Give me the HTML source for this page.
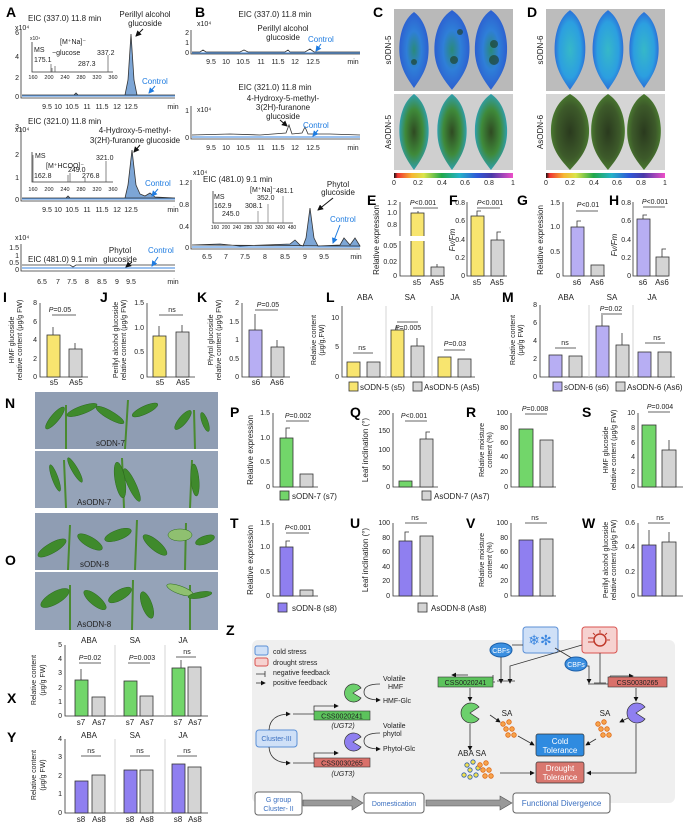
<!DOCTYPE html>
<html><head><meta charset="utf-8"><style>
html,body{margin:0;padding:0;background:#fff}
svg{display:block}
text{font-family:"Liberation Sans",Arial,sans-serif;fill:#222}
.s{font-size:7px}.m{font-size:8px}.L{font-size:14px;font-weight:bold;fill:#000}
.b{fill:#1e7be0}.w{fill:#fff}
.ax{stroke:#333;stroke-width:.8;fill:none}
.y{fill:#f8e56f;stroke:#333;stroke-width:.8}.g{fill:#d4d4d4;stroke:#333;stroke-width:.8}
.p{fill:#b7aef3;stroke:#333;stroke-width:.8}.dp{fill:#8f7ff0;stroke:#333;stroke-width:.8}
.gr{fill:#72d66a;stroke:#333;stroke-width:.8}
.bl{stroke:#3a86e0;stroke-width:.9;fill:none}.k{stroke:#333;stroke-width:.8;fill:none}
</style></head><body>
<svg width="692" height="824" viewBox="0 0 692 824" xmlns="http://www.w3.org/2000/svg">
<defs>
<linearGradient id="cb" x1="0" x2="1"><stop offset="0" stop-color="#111"/><stop offset=".03" stop-color="#e33"/><stop offset=".15" stop-color="#f7b733"/><stop offset=".25" stop-color="#dbe44b"/><stop offset=".4" stop-color="#22a84a"/><stop offset=".55" stop-color="#24b3c8"/><stop offset=".7" stop-color="#2f58d8"/><stop offset=".82" stop-color="#4a3aa8"/><stop offset="1" stop-color="#ee4fc8"/></linearGradient>
<radialGradient id="lb"><stop offset="0" stop-color="#2a8a7a"/><stop offset=".5" stop-color="#2f7fd8"/><stop offset="1" stop-color="#2c5fd0"/></radialGradient>
<radialGradient id="lb2"><stop offset="0" stop-color="#36b8c8"/><stop offset=".7" stop-color="#2c9fe0"/><stop offset="1" stop-color="#2a6fd8"/></radialGradient>
<radialGradient id="lg"><stop offset="0" stop-color="#2f4a22"/><stop offset=".6" stop-color="#3f8a3a"/><stop offset="1" stop-color="#2f9fae"/></radialGradient>
<radialGradient id="lg2"><stop offset="0" stop-color="#2a3a1e"/><stop offset=".7" stop-color="#3d5a2a"/><stop offset="1" stop-color="#4a7a30"/></radialGradient>
<marker id="ar" markerWidth="6" markerHeight="6" refX="5" refY="3" orient="auto"><path d="M0,0L6,3L0,6z" fill="#111"/></marker>
<marker id="ab" markerWidth="6" markerHeight="6" refX="5" refY="3" orient="auto"><path d="M0,0L6,3L0,6z" fill="#1e7be0"/></marker>
<g id="leaf"><path d="M0,-38 C14,-28 16,-5 14,8 C12,22 4,32 0,38 C-4,32 -12,22 -14,8 C-16,-5 -14,-28 0,-38z"/></g>
<g id="dots" fill="#f6a34a" stroke="#e06a1a" stroke-width=".8"><circle cx="0" cy="0" r="2.3"/><circle cx="6" cy="-2" r="2.3"/><circle cx="3" cy="5" r="2.3"/><circle cx="9" cy="5" r="2.3"/><circle cx="5" cy="11" r="2.3"/><circle cx="11" cy="11" r="2.3"/></g>
</defs>

<!-- ========== A ========== -->
<text x="6" y="17" class="L">A</text>
<text x="28" y="21" class="m">EIC (337.0) 11.8 min</text>
<text x="15" y="30" class="s">x10⁴</text>
<g class="s" text-anchor="end"><text x="19" y="35">6</text><text x="19" y="59">4</text><text x="19" y="80">2</text><text x="19" y="99">0</text></g>
<path class="ax" d="M21,30V98H175"/>
<g class="s" text-anchor="middle"><text x="47" y="109">9.5</text><text x="58" y="109">10</text><text x="72" y="109">10.5</text><text x="87" y="109">11</text><text x="102" y="109">11.5</text><text x="117" y="109">12</text><text x="131" y="109">12.5</text><text x="173" y="109">min</text></g>
<path d="M22,95 L74,95 L76,93 L78,95 L125,95 L128,80 L131,34 L134,80 L137,95 L175,95Z" fill="#7da6d6" stroke="#333" stroke-width=".8"/>
<path class="bl" d="M22,96H175"/>
<text x="145" y="17" class="m" text-anchor="middle">Perillyl alcohol</text><text x="145" y="26" class="m" text-anchor="middle">glucoside</text>
<path d="M143,29L136,36" stroke="#111" stroke-width="1" marker-end="url(#ar)"/>
<text x="142" y="84" class="m b">Control</text><path d="M155,86L149,93" stroke="#1e7be0" marker-end="url(#ab)"/>
<path class="ax" d="M32,42V72H113"/>
<text x="30" y="40" class="s" style="font-size:5px">x10⁴</text><text x="34" y="52" class="s">MS</text><text x="34" y="62" class="s">175.1</text>
<text x="60" y="44" class="s">[M⁺Na]⁻</text><text x="52" y="55" class="s">−glucose</text><text x="97" y="55" class="s">337.2</text><text x="78" y="66" class="s">287.3</text>
<path d="M51,72V64M52,72V68M55,72V66M108,72V55" stroke="#555" stroke-width=".7"/>
<g class="s" text-anchor="middle" style="font-size:5.5px"><text x="33" y="79">160</text><text x="49" y="79">200</text><text x="65" y="79">240</text><text x="81" y="79">280</text><text x="97" y="79">320</text><text x="113" y="79">360</text></g>

<text x="28" y="124" class="m">EIC (321.0) 11.8 min</text>
<text x="15" y="132" class="s">x10⁴</text>
<g class="s" text-anchor="end"><text x="19" y="129">3</text><text x="19" y="157">2</text><text x="19" y="180">1</text><text x="19" y="202">0</text></g>
<path class="ax" d="M21,128V201H175"/>
<g class="s" text-anchor="middle"><text x="47" y="212">9.5</text><text x="58" y="212">10</text><text x="72" y="212">10.5</text><text x="87" y="212">11</text><text x="102" y="212">11.5</text><text x="117" y="212">12</text><text x="131" y="212">12.5</text><text x="173" y="212">min</text></g>
<path d="M22,198 L66,198 L68,196 L70,198 L125,198 L128,185 L132,150 L136,185 L140,194 L145,196 L150,193 L155,197 L175,198Z" fill="#7da6d6" stroke="#333" stroke-width=".8"/>
<path class="bl" d="M22,199H175"/>
<text x="135" y="133" class="m" text-anchor="middle">4-Hydroxy-5-methyl-</text><text x="135" y="143" class="m" text-anchor="middle">3(2H)-furanone glucoside</text>
<path d="M140,145L134,152" stroke="#111" marker-end="url(#ar)"/>
<text x="145" y="186" class="m b">Control</text><path d="M158,189L152,196" stroke="#1e7be0" marker-end="url(#ab)"/>
<path class="ax" d="M32,152V182H113"/>
<text x="35" y="158" class="s">MS</text><text x="46" y="168" class="s">[M⁺HCOO]⁻</text><text x="34" y="178" class="s">162.8</text><text x="68" y="172" class="s">249.0</text><text x="82" y="178" class="s">276.8</text><text x="96" y="160" class="s">321.0</text>
<path d="M33,182V155M68,182V175M70,182V173M85,182V178M106,182V161" stroke="#555" stroke-width=".7"/>
<g class="s" text-anchor="middle" style="font-size:5.5px"><text x="33" y="191">160</text><text x="49" y="191">200</text><text x="65" y="191">240</text><text x="81" y="191">280</text><text x="97" y="191">320</text><text x="113" y="191">360</text></g>

<text x="15" y="240" class="s">x10⁴</text>
<g class="s" text-anchor="end"><text x="19" y="250">1.5</text><text x="19" y="258">1</text><text x="19" y="265">0.5</text><text x="19" y="272">0</text></g>
<path class="ax" d="M21,244V271H175"/>
<text x="28" y="262" class="m">EIC (481.0) 9.1 min</text>
<path class="k" d="M22,265H70L73,267L76,265H175"/><path class="bl" d="M22,268H175"/>
<text x="120" y="253" class="m" text-anchor="middle">Phytol</text><text x="120" y="262" class="m" text-anchor="middle">glucoside</text>
<path d="M132,262L126,267" stroke="#111" marker-end="url(#ar)"/>
<text x="148" y="253" class="m b">Control</text><path d="M158,257L152,266" stroke="#1e7be0" marker-end="url(#ab)"/>
<g class="s" text-anchor="middle"><text x="42" y="284">6.5</text><text x="58" y="284">7</text><text x="72" y="284">7.5</text><text x="87" y="284">8</text><text x="102" y="284">8.5</text><text x="117" y="284">9</text><text x="131" y="284">9.5</text><text x="173" y="284">min</text></g>

<!-- ========== B ========== -->
<text x="195" y="17" class="L">B</text>
<text x="275" y="17" class="m" text-anchor="middle">EIC (337.0) 11.8 min</text>
<text x="197" y="26" class="s">x10⁴</text>
<g class="s" text-anchor="end"><text x="189" y="35">2</text><text x="189" y="45">1</text><text x="189" y="55">0</text></g>
<path class="ax" d="M191,30V54H360"/>
<path class="k" d="M192,52L200,52L203,50L206,52L240,52L244,50L248,52L285,52L288,50L290,52L305,52L310,49L314,52L360,52"/>
<path class="bl" d="M192,53H360"/>
<text x="283" y="31" class="m" text-anchor="middle">Perillyl alcohol</text><text x="283" y="40" class="m" text-anchor="middle">glucoside</text>
<text x="308" y="42" class="m b">Control</text><path d="M321,44L316,51" stroke="#1e7be0" marker-end="url(#ab)"/>
<g class="s" text-anchor="middle"><text x="211" y="64">9.5</text><text x="226" y="64">10</text><text x="243" y="64">10.5</text><text x="261" y="64">11</text><text x="278" y="64">11.5</text><text x="295" y="64">12</text><text x="313" y="64">12.5</text><text x="353" y="64">min</text></g>

<text x="275" y="90" class="m" text-anchor="middle">EIC (321.0) 11.8 min</text>
<text x="283" y="101" class="m" text-anchor="middle">4-Hydroxy-5-methyl-</text><text x="283" y="110" class="m" text-anchor="middle">3(2H)-furanone</text><text x="283" y="119" class="m" text-anchor="middle">glucoside</text>
<text x="197" y="112" class="s">x10⁴</text>
<g class="s" text-anchor="end"><text x="189" y="113">1</text><text x="189" y="140">0</text></g>
<path class="ax" d="M191,106V139H360"/>
<path class="k" d="M192,135L230,134L260,135L286,133L289,125L292,134L302,133L305,127L308,134L330,134L360,135"/>
<path class="bl" d="M192,137H360"/>
<path d="M280,120L287,126" stroke="#111" marker-end="url(#ar)"/>
<text x="303" y="128" class="m b">Control</text><path d="M318,130L313,136" stroke="#1e7be0" marker-end="url(#ab)"/>
<g class="s" text-anchor="middle"><text x="211" y="150">9.5</text><text x="226" y="150">10</text><text x="243" y="150">10.5</text><text x="261" y="150">11</text><text x="278" y="150">11.5</text><text x="295" y="150">12</text><text x="313" y="150">12.5</text><text x="353" y="150">min</text></g>

<text x="193" y="175" class="s">x10⁴</text>
<g class="s" text-anchor="end"><text x="189" y="185">1.2</text><text x="189" y="207">0.8</text><text x="189" y="229">0.4</text><text x="189" y="250">0</text></g>
<path class="ax" d="M191,180V249H360"/>
<text x="203" y="182" class="m">EIC (481.0) 9.1 min</text>
<path d="M192,245 L220,244 L240,246 L290,244 L295,240 L300,245 L303,246 L306,238 L310,208 L314,238 L318,246 L340,245 L344,238 L350,245 L355,238 L360,246Z" fill="#7da6d6" stroke="#333" stroke-width=".8"/>
<path class="bl" d="M192,247H360"/>
<text x="338" y="187" class="m" text-anchor="middle">Phytol</text><text x="338" y="195" class="m" text-anchor="middle">glucoside</text>
<path d="M333,198L318,210" stroke="#111" marker-end="url(#ar)"/>
<text x="330" y="222" class="m b">Control</text><path d="M340,225L333,243" stroke="#1e7be0" marker-end="url(#ab)"/>
<path class="ax" d="M213,191V223H293"/>
<text x="214" y="199" class="s">MS</text><text x="214" y="208" class="s">162.9</text><text x="222" y="216" class="s">245.0</text><text x="245" y="208" class="s">308.1</text><text x="257" y="200" class="s">352.0</text><text x="250" y="192" class="s">[M⁺Na]⁻</text><text x="276" y="193" class="s">481.1</text>
<path d="M283,223V196M258,223V211M268,223V204" stroke="#777" stroke-width=".7"/>
<g class="s" text-anchor="middle" style="font-size:5px"><text x="215" y="229">160</text><text x="226" y="229">200</text><text x="237" y="229">240</text><text x="248" y="229">280</text><text x="259" y="229">320</text><text x="270" y="229">360</text><text x="281" y="229">400</text><text x="292" y="229">480</text></g>
<g class="s" text-anchor="middle"><text x="207" y="259">6.5</text><text x="226" y="259">7</text><text x="245" y="259">7.5</text><text x="265" y="259">8</text><text x="285" y="259">8.5</text><text x="305" y="259">9</text><text x="324" y="259">9.5</text><text x="356" y="259">min</text></g>

<!-- ========== C / D ========== -->
<text x="373" y="17" class="L">C</text>
<rect x="394" y="9" width="119" height="82" fill="#b9b9b9"/>
<rect x="394" y="94" width="119" height="76" fill="#cfcfcf"/>
<g fill="url(#lb)"><use href="#leaf" x="414" y="50"/><use href="#leaf" x="452" y="50" transform="translate(452 50) scale(1.2 1.05) translate(-452 -50)"/><use href="#leaf" x="491" y="50" transform="translate(491 50) scale(1.1 1.05) translate(-491 -50)"/></g>
<g fill="#1d3a1a" opacity=".6"><circle cx="414" cy="62" r="3"/><circle cx="454" cy="60" r="4"/><circle cx="494" cy="60" r="5"/><circle cx="494" cy="44" r="4"/><circle cx="460" cy="32" r="3"/></g>
<g fill="url(#lg)"><use href="#leaf" x="414" y="132"/><use href="#leaf" x="452" y="132"/><use href="#leaf" x="491" y="132" transform="translate(491 132) scale(1.1 1) translate(-491 -132)"/></g>
<text transform="translate(391 50) rotate(-90)" class="m" text-anchor="middle">sODN-5</text>
<text transform="translate(391 132) rotate(-90)" class="m" text-anchor="middle">AsODN-5</text>
<rect x="394" y="173" width="119" height="5" fill="url(#cb)"/>
<g class="s" text-anchor="middle"><text x="394" y="185">0</text><text x="418" y="185">0.2</text><text x="442" y="185">0.4</text><text x="465" y="185">0.6</text><text x="489" y="185">0.8</text><text x="513" y="185">1</text></g>

<text x="527" y="17" class="L">D</text>
<rect x="546" y="9" width="119" height="82" fill="#bcbcbc"/>
<rect x="546" y="94" width="119" height="76" fill="#d5d5d5"/>
<g fill="url(#lb2)"><use href="#leaf" x="570" y="50" transform="translate(570 50) scale(1.05 1.05) translate(-570 -50)"/><use href="#leaf" x="608" y="50" transform="translate(608 50) scale(1.05 1.05) translate(-608 -50)"/><use href="#leaf" x="644" y="50"/></g>
<g fill="url(#lg2)"><use href="#leaf" x="570" y="132" transform="translate(570 132) scale(1.3 1) translate(-570 -132)"/><use href="#leaf" x="608" y="132" transform="translate(608 132) scale(1.15 1) translate(-608 -132)"/><use href="#leaf" x="644" y="132" transform="translate(644 132) scale(1.15 1) translate(-644 -132)"/></g>
<text transform="translate(543 50) rotate(-90)" class="m" text-anchor="middle">sODN-6</text>
<text transform="translate(543 132) rotate(-90)" class="m" text-anchor="middle">AsODN-6</text>
<rect x="546" y="173" width="119" height="5" fill="url(#cb)"/>
<g class="s" text-anchor="middle"><text x="546" y="185">0</text><text x="570" y="185">0.2</text><text x="594" y="185">0.4</text><text x="617" y="185">0.6</text><text x="641" y="185">0.8</text><text x="665" y="185">1</text></g>

<!-- ========== E-H ========== -->
<text x="367" y="205" class="L">E</text>
<text transform="translate(379 240) rotate(-90)" class="m" text-anchor="middle">Relative expression</text>
<path class="ax" d="M400,202V236M400,241V276H445"/>
<g class="s" text-anchor="end"><text x="397" y="205">1.2</text><text x="397" y="215">1.0</text><text x="397" y="227">0.8</text><text x="397" y="248">0.05</text><text x="397" y="264">0.02</text><text x="397" y="278">0</text></g>
<rect x="411" y="213" width="13" height="63" class="y"/><rect x="404" y="236" width="24" height="5" fill="#fff"/>
<rect x="431" y="267" width="13" height="9" class="g"/>
<path class="k" d="M418,213V211M437,264V267"/>
<text x="423" y="205" class="s" text-anchor="middle"><tspan font-style="italic">P</tspan>&lt;0.001</text><path class="k" d="M413,208H438"/>
<g class="m" text-anchor="middle"><text x="417" y="285">s5</text><text x="437" y="285">As5</text></g>

<text x="449" y="205" class="L">F</text>
<text transform="translate(455 240) rotate(-90)" class="m" text-anchor="middle" font-style="italic">Fv/Fm</text>
<path class="ax" d="M467,202V276H507"/>
<g class="s" text-anchor="end"><text x="465" y="205">0.8</text><text x="465" y="223">0.6</text><text x="465" y="242">0.4</text><text x="465" y="260">0.2</text><text x="465" y="278">0</text></g>
<rect x="471" y="216" width="13" height="60" class="y"/><rect x="491" y="240" width="13" height="36" class="g"/>
<path class="k" d="M477,216V211H481M497,240V232H501"/>
<text x="490" y="205" class="s" text-anchor="middle"><tspan font-style="italic">P</tspan>&lt;0.001</text><path class="k" d="M477,208H500"/>
<g class="m" text-anchor="middle"><text x="477" y="285">s5</text><text x="497" y="285">As5</text></g>

<text x="517" y="205" class="L">G</text>
<text transform="translate(543 240) rotate(-90)" class="m" text-anchor="middle">Relative expression</text>
<path class="ax" d="M563,202V276H605"/>
<g class="s" text-anchor="end"><text x="560" y="205">1.5</text><text x="560" y="229">1.0</text><text x="560" y="254">0.5</text><text x="560" y="278">0</text></g>
<rect x="571" y="227" width="13" height="49" class="p"/><rect x="591" y="265" width="13" height="11" class="g"/>
<path class="k" d="M577,227V221H581"/>
<text x="588" y="207" class="s" text-anchor="middle"><tspan font-style="italic">P</tspan>&lt;0.01</text><path class="k" d="M576,211H598"/>
<g class="m" text-anchor="middle"><text x="577" y="285">s6</text><text x="597" y="285">As6</text></g>

<text x="609" y="205" class="L">H</text>
<text transform="translate(617 245) rotate(-90)" class="m" text-anchor="middle" font-style="italic">Fv/Fm</text>
<path class="ax" d="M633,202V276H668"/>
<g class="s" text-anchor="end"><text x="631" y="205">0.8</text><text x="631" y="223">0.6</text><text x="631" y="242">0.4</text><text x="631" y="260">0.2</text><text x="631" y="278">0</text></g>
<rect x="637" y="219" width="13" height="57" class="p"/><rect x="656" y="257" width="13" height="19" class="g"/>
<path class="k" d="M643,219V215H647M662,257V249H666"/>
<text x="655" y="204" class="s" text-anchor="middle"><tspan font-style="italic">P</tspan>&lt;0.001</text><path class="k" d="M643,207H665"/>
<g class="m" text-anchor="middle"><text x="643" y="285">s6</text><text x="662" y="285">As6</text></g>

<!-- ========== I J K ========== -->
<text x="3" y="302" class="L">I</text>
<text transform="translate(14 340) rotate(-90)" class="s" text-anchor="middle">HMF glucoside</text>
<text transform="translate(22 340) rotate(-90)" class="s" text-anchor="middle">relative content (μg/g FW)</text>
<path class="ax" d="M40,303V377H88"/>
<g class="s" text-anchor="end"><text x="37" y="305">8</text><text x="37" y="324">6</text><text x="37" y="342">4</text><text x="37" y="361">2</text><text x="37" y="379">0</text></g>
<rect x="47" y="335" width="13" height="42" class="y"/><rect x="69" y="349" width="13" height="28" class="g"/>
<path class="k" d="M53,335V327M75,349V343"/>
<text x="60" y="312" class="s" text-anchor="middle"><tspan font-style="italic">P</tspan>=0.05</text><path class="k" d="M52,315H76"/>
<g class="m" text-anchor="middle"><text x="54" y="385">s5</text><text x="76" y="385">As5</text></g>

<text x="100" y="302" class="L">J</text>
<text transform="translate(118 340) rotate(-90)" class="s" text-anchor="middle">Perillyl alcohol glucoside</text>
<text transform="translate(126 340) rotate(-90)" class="s" text-anchor="middle">relative content (μg/g FW)</text>
<path class="ax" d="M147,303V377H195"/>
<g class="s" text-anchor="end"><text x="144" y="305">1.5</text><text x="144" y="330">1.0</text><text x="144" y="354">0.5</text><text x="144" y="379">0</text></g>
<rect x="153" y="336" width="13" height="41" class="y"/><rect x="176" y="332" width="13" height="45" class="g"/>
<path class="k" d="M159,336V326M182,332V325"/>
<text x="172" y="312" class="s" text-anchor="middle">ns</text><path class="k" d="M159,315H183"/>
<g class="m" text-anchor="middle"><text x="160" y="385">s5</text><text x="183" y="385">As5</text></g>

<text x="197" y="302" class="L">K</text>
<text transform="translate(213 340) rotate(-90)" class="s" text-anchor="middle">Phytol glucoside</text>
<text transform="translate(221 340) rotate(-90)" class="s" text-anchor="middle">relative content (μg/g FW)</text>
<path class="ax" d="M242,303V377H290"/>
<g class="s" text-anchor="end"><text x="239" y="305">2</text><text x="239" y="324">1.5</text><text x="239" y="342">1</text><text x="239" y="361">0.5</text><text x="239" y="379">0</text></g>
<rect x="249" y="330" width="13" height="47" class="p"/><rect x="271" y="347" width="13" height="30" class="g"/>
<path class="k" d="M255,330V314M277,347V340"/>
<text x="268" y="307" class="s" text-anchor="middle"><tspan font-style="italic">P</tspan>=0.05</text><path class="k" d="M255,310H278"/>
<g class="m" text-anchor="middle"><text x="256" y="385">s6</text><text x="277" y="385">As6</text></g>

<!-- ========== L ========== -->
<text x="326" y="302" class="L">L</text>
<text transform="translate(316 340) rotate(-90)" class="s" text-anchor="middle">Relative content</text>
<text transform="translate(324 340) rotate(-90)" class="s" text-anchor="middle">(μg/g,FW)</text>
<path class="ax" d="M342,306V377H475"/>
<path d="M386,306V377M432,306V377" stroke="#ccc" stroke-width=".8"/>
<g class="s" text-anchor="end"><text x="339" y="320">10</text><text x="339" y="349">5</text><text x="339" y="379">0</text></g>
<g class="m" text-anchor="middle"><text x="365" y="300">ABA</text><text x="410" y="300">SA</text><text x="455" y="300">JA</text></g>
<rect x="347" y="362" width="13" height="15" class="y"/><rect x="367" y="362" width="13" height="15" class="g"/>
<rect x="391" y="330" width="13" height="47" class="y"/><rect x="411" y="346" width="13" height="31" class="g"/>
<rect x="438" y="357" width="13" height="20" class="y"/><rect x="458" y="359" width="13" height="18" class="g"/>
<path class="k" d="M397,330V326M417,346V338"/>
<text x="362" y="350" class="s" text-anchor="middle">ns</text><path class="k" d="M353,353H373"/>
<text x="408" y="330" class="s" text-anchor="middle"><tspan font-style="italic">P</tspan>=0.005</text><path class="k" d="M397,322H418"/>
<text x="455" y="346" class="s" text-anchor="middle"><tspan font-style="italic">P</tspan>=0.03</text><path class="k" d="M444,350H465"/>
<rect x="349" y="382" width="9" height="9" class="y"/><text x="360" y="390" class="m">sODN-5 (s5)</text>
<rect x="413" y="382" width="9" height="9" class="g"/><text x="424" y="390" class="m">AsODN-5 (As5)</text>

<!-- ========== M ========== -->
<text x="502" y="302" class="L">M</text>
<text transform="translate(515 340) rotate(-90)" class="s" text-anchor="middle">Relative content</text>
<text transform="translate(523 340) rotate(-90)" class="s" text-anchor="middle">(μg/g FW)</text>
<path class="ax" d="M540,305V377H675"/>
<path d="M589,305V377M633,305V377" stroke="#ccc" stroke-width=".8"/>
<g class="s" text-anchor="end"><text x="537" y="307">8</text><text x="537" y="325">6</text><text x="537" y="343">4</text><text x="537" y="361">2</text><text x="537" y="379">0</text></g>
<g class="m" text-anchor="middle"><text x="566" y="300">ABA</text><text x="612" y="300">SA</text><text x="652" y="300">JA</text></g>
<rect x="549" y="355" width="13" height="22" class="p"/><rect x="569" y="356" width="13" height="21" class="g"/>
<rect x="596" y="326" width="13" height="51" class="p"/><rect x="616" y="345" width="13" height="32" class="g"/>
<rect x="638" y="352" width="13" height="25" class="p"/><rect x="658" y="352" width="13" height="25" class="g"/>
<path class="k" d="M602,326V315M622,345V333"/>
<text x="565" y="345" class="s" text-anchor="middle">ns</text><path class="k" d="M555,348H576"/>
<text x="611" y="311" class="s" text-anchor="middle"><tspan font-style="italic">P</tspan>=0.02</text><path class="k" d="M601,314H622"/>
<text x="657" y="340" class="s" text-anchor="middle">ns</text><path class="k" d="M645,343H665"/>
<rect x="553" y="382" width="9" height="9" class="p"/><text x="564" y="390" class="m">sODN-6 (s6)</text>
<rect x="616" y="382" width="9" height="9" class="g"/><text x="627" y="390" class="m">AsODN-6 (As6)</text>

<!-- ========== N O photos ========== -->
<text x="5" y="408" class="L">N</text>
<text x="5" y="565" class="L">O</text>
<g>
<rect x="35" y="392" width="183" height="57" fill="#8f9db3"/><rect x="35" y="451" width="183" height="57" fill="#95a3b8"/>
<rect x="35" y="513" width="183" height="57" fill="#8f9db3"/><rect x="35" y="572" width="183" height="58" fill="#95a3b8"/>
<g fill="#3f8a2c" stroke="#2d6a1e" stroke-width=".5">
<path d="M66,449L66,405M125,449L128,400M195,449L194,410M66,508L64,460M124,508L122,458M190,508L192,460M68,570L70,525M135,570L137,520M185,570L186,523M70,630L70,585M132,630L133,580M190,630L190,585" stroke="#4a8a30" stroke-width="2"/>
<ellipse cx="55" cy="418" rx="14" ry="4" transform="rotate(-50 55 418)"/><ellipse cx="82" cy="410" rx="16" ry="4" transform="rotate(-20 82 410)"/><ellipse cx="110" cy="415" rx="16" ry="4" transform="rotate(30 110 415)"/><ellipse cx="145" cy="410" rx="14" ry="4" transform="rotate(-25 145 410)"/><ellipse cx="183" cy="420" rx="12" ry="4" transform="rotate(-50 183 420)"/><ellipse cx="205" cy="422" rx="10" ry="3" transform="rotate(70 205 422)"/>
<ellipse cx="55" cy="478" rx="14" ry="3" transform="rotate(70 55 478)"/><ellipse cx="75" cy="470" rx="14" ry="3" transform="rotate(60 75 470)"/><ellipse cx="120" cy="480" rx="18" ry="5" transform="rotate(80 120 480)"/><ellipse cx="132" cy="485" rx="18" ry="4" transform="rotate(65 132 485)"/><ellipse cx="195" cy="480" rx="16" ry="4" transform="rotate(85 195 480)"/>
<ellipse cx="52" cy="548" rx="16" ry="5" transform="rotate(-30 52 548)"/><ellipse cx="90" cy="542" rx="14" ry="5" transform="rotate(30 90 542)"/><ellipse cx="118" cy="535" rx="14" ry="5" transform="rotate(-20 118 535)"/><ellipse cx="155" cy="545" rx="15" ry="5" transform="rotate(40 155 545)"/><ellipse cx="180" cy="535" rx="12" ry="6" fill="#8fc070"/><ellipse cx="205" cy="540" rx="10" ry="4" transform="rotate(-20 205 540)"/>
<ellipse cx="55" cy="598" rx="16" ry="6" transform="rotate(-30 55 598)"/><ellipse cx="95" cy="600" rx="14" ry="5" transform="rotate(40 95 600)"/><ellipse cx="120" cy="595" rx="13" ry="5" transform="rotate(-30 120 595)"/><ellipse cx="147" cy="605" rx="14" ry="5" transform="rotate(70 147 605)"/><ellipse cx="180" cy="590" rx="14" ry="4" fill="#8fc070" transform="rotate(20 180 590)"/><ellipse cx="200" cy="595" rx="12" ry="3" transform="rotate(-10 200 595)"/>
</g>
<text x="96" y="446" class="m">sODN-7</text><text x="77" y="505" class="m">AsODN-7</text>
<text x="80" y="567" class="m">sODN-8</text><text x="77" y="627" class="m">AsODN-8</text>
</g>

<!-- ========== P Q R S ========== -->
<text x="230" y="417" class="L">P</text>
<text transform="translate(253 450) rotate(-90)" class="m" text-anchor="middle">Relative expression</text>
<path class="ax" d="M273,413V487H318"/>
<g class="s" text-anchor="end"><text x="270" y="415">1.5</text><text x="270" y="440">1.0</text><text x="270" y="464">0.5</text><text x="270" y="489">0</text></g>
<rect x="280" y="438" width="13" height="49" class="gr"/><rect x="300" y="474" width="13" height="13" class="g"/>
<path class="k" d="M286,438V428H290"/>
<text x="298" y="418" class="s" text-anchor="middle"><tspan font-style="italic">P</tspan>=0.002</text><path class="k" d="M286,421H309"/>
<rect x="280" y="491" width="9" height="9" class="gr"/><text x="292" y="499" class="m">sODN-7 (s7)</text>

<text x="350" y="417" class="L">Q</text>
<text transform="translate(368 450) rotate(-90)" class="m" text-anchor="middle">Leaf inclination (°)</text>
<path class="ax" d="M393,413V487H438"/>
<g class="s" text-anchor="end"><text x="390" y="415">200</text><text x="390" y="433">150</text><text x="390" y="452">100</text><text x="390" y="470">50</text><text x="390" y="489">0</text></g>
<rect x="399" y="481" width="13" height="6" class="gr"/><rect x="420" y="439" width="13" height="48" class="g"/>
<path class="k" d="M426,439V432H430"/>
<text x="414" y="418" class="s" text-anchor="middle"><tspan font-style="italic">P</tspan>&lt;0.001</text><path class="k" d="M405,421H427"/>
<rect x="422" y="491" width="9" height="9" class="g"/><text x="434" y="499" class="m">AsODN-7 (As7)</text>

<text x="466" y="417" class="L">R</text>
<text transform="translate(484 450) rotate(-90)" class="s" text-anchor="middle">Relative moisture</text>
<text transform="translate(492 450) rotate(-90)" class="s" text-anchor="middle">content (%)</text>
<path class="ax" d="M511,413V487H556"/>
<g class="s" text-anchor="end"><text x="508" y="415">100</text><text x="508" y="430">80</text><text x="508" y="445">60</text><text x="508" y="459">40</text><text x="508" y="474">20</text><text x="508" y="489">0</text></g>
<rect x="519" y="429" width="14" height="58" class="gr"/><rect x="540" y="440" width="13" height="47" class="g"/>
<text x="535" y="411" class="s" text-anchor="middle"><tspan font-style="italic">P</tspan>=0.008</text><path class="k" d="M525,414H547"/>

<text x="582" y="417" class="L">S</text>
<text transform="translate(608 450) rotate(-90)" class="s" text-anchor="middle">HMF glucoside</text>
<text transform="translate(616 450) rotate(-90)" class="s" text-anchor="middle">relative content (μg/g FW)</text>
<path class="ax" d="M638,413V487H683"/>
<g class="s" text-anchor="end"><text x="635" y="415">10</text><text x="635" y="430">8</text><text x="635" y="445">6</text><text x="635" y="459">4</text><text x="635" y="474">2</text><text x="635" y="489">0</text></g>
<rect x="642" y="425" width="14" height="62" class="gr"/><rect x="662" y="450" width="14" height="37" class="g"/>
<path class="k" d="M669,450V440"/>
<text x="660" y="409" class="s" text-anchor="middle"><tspan font-style="italic">P</tspan>=0.004</text><path class="k" d="M648,412H670"/>

<!-- ========== T U V W ========== -->
<text x="230" y="528" class="L">T</text>
<text transform="translate(253 560) rotate(-90)" class="m" text-anchor="middle">Relative expression</text>
<path class="ax" d="M273,523V596H318"/>
<g class="s" text-anchor="end"><text x="270" y="525">1.5</text><text x="270" y="549">1.0</text><text x="270" y="574">0.5</text><text x="270" y="598">0</text></g>
<rect x="280" y="547" width="13" height="49" class="dp"/><rect x="300" y="590" width="13" height="6" class="g"/>
<path class="k" d="M286,547V541H290"/>
<text x="298" y="530" class="s" text-anchor="middle"><tspan font-style="italic">P</tspan>&lt;0.001</text><path class="k" d="M286,533H309"/>
<rect x="278" y="603" width="9" height="9" class="dp"/><text x="292" y="611" class="m">sODN-8 (s8)</text>

<text x="350" y="528" class="L">U</text>
<text transform="translate(368 560) rotate(-90)" class="m" text-anchor="middle">Leaf inclination (°)</text>
<path class="ax" d="M393,523V596H438"/>
<g class="s" text-anchor="end"><text x="390" y="525">100</text><text x="390" y="540">80</text><text x="390" y="554">60</text><text x="390" y="569">40</text><text x="390" y="583">20</text><text x="390" y="598">0</text></g>
<rect x="399" y="541" width="13" height="55" class="dp"/><rect x="420" y="536" width="13" height="60" class="g"/>
<path class="k" d="M405,541V532H409"/>
<text x="415" y="520" class="s" text-anchor="middle">ns</text><path class="k" d="M405,523H427"/>
<rect x="418" y="603" width="9" height="9" class="g"/><text x="431" y="611" class="m">AsODN-8 (As8)</text>

<text x="466" y="528" class="L">V</text>
<text transform="translate(484 560) rotate(-90)" class="s" text-anchor="middle">Relative moisture</text>
<text transform="translate(492 560) rotate(-90)" class="s" text-anchor="middle">content (%)</text>
<path class="ax" d="M511,523V596H556"/>
<g class="s" text-anchor="end"><text x="508" y="525">100</text><text x="508" y="540">80</text><text x="508" y="554">60</text><text x="508" y="569">40</text><text x="508" y="583">20</text><text x="508" y="598">0</text></g>
<rect x="519" y="540" width="14" height="56" class="dp"/><rect x="540" y="539" width="13" height="57" class="g"/>
<text x="535" y="520" class="s" text-anchor="middle">ns</text><path class="k" d="M525,523H547"/>

<text x="582" y="528" class="L">W</text>
<text transform="translate(608 560) rotate(-90)" class="s" text-anchor="middle">Perillyl alcohol glucoside</text>
<text transform="translate(616 560) rotate(-90)" class="s" text-anchor="middle">relative content (μg/g FW)</text>
<path class="ax" d="M638,523V596H683"/>
<g class="s" text-anchor="end"><text x="635" y="525">0.6</text><text x="635" y="549">0.4</text><text x="635" y="574">0.2</text><text x="635" y="598">0</text></g>
<rect x="642" y="545" width="14" height="51" class="dp"/><rect x="662" y="542" width="14" height="54" class="g"/>
<path class="k" d="M649,545V530M669,542V532"/>
<text x="660" y="520" class="s" text-anchor="middle">ns</text><path class="k" d="M648,523H670"/>

<!-- ========== X Y ========== -->
<text x="7" y="703" class="L">X</text>
<text transform="translate(36 680) rotate(-90)" class="s" text-anchor="middle">Relative content</text>
<text transform="translate(45 680) rotate(-90)" class="s" text-anchor="middle">(μg/g FW)</text>
<path class="ax" d="M65,645V716H208"/>
<path d="M115,645V716M165,645V716" stroke="#ccc" stroke-width=".8"/>
<g class="s" text-anchor="end"><text x="62" y="647">5</text><text x="62" y="661">4</text><text x="62" y="675">3</text><text x="62" y="690">2</text><text x="62" y="704">1</text><text x="62" y="718">0</text></g>
<g class="m" text-anchor="middle"><text x="89" y="643">ABA</text><text x="135" y="643">SA</text><text x="183" y="643">JA</text></g>
<rect x="75" y="680" width="13" height="36" class="gr"/><rect x="92" y="697" width="13" height="19" class="g"/>
<rect x="124" y="681" width="13" height="35" class="gr"/><rect x="140" y="696" width="13" height="20" class="g"/>
<rect x="172" y="668" width="13" height="48" class="gr"/><rect x="188" y="667" width="13" height="49" class="g"/>
<path class="k" d="M81,680V669M181,668V660"/>
<text x="90" y="660" class="s" text-anchor="middle"><tspan font-style="italic">P</tspan>=0.02</text><path class="k" d="M79,663H101"/>
<text x="142" y="660" class="s" text-anchor="middle"><tspan font-style="italic">P</tspan>=0.003</text><path class="k" d="M128,663H150"/>
<text x="187" y="654" class="s" text-anchor="middle">ns</text><path class="k" d="M176,657H196"/>
<g class="m" text-anchor="middle"><text x="81" y="725">s7</text><text x="99" y="725">As7</text><text x="130" y="725">s7</text><text x="147" y="725">As7</text><text x="178" y="725">s7</text><text x="195" y="725">As7</text></g>

<text x="7" y="742" class="L">Y</text>
<text transform="translate(36 775) rotate(-90)" class="s" text-anchor="middle">Relative content</text>
<text transform="translate(45 775) rotate(-90)" class="s" text-anchor="middle">(μg/g FW)</text>
<path class="ax" d="M65,739V813H208"/>
<path d="M115,739V813M165,739V813" stroke="#ccc" stroke-width=".8"/>
<g class="s" text-anchor="end"><text x="62" y="741">4</text><text x="62" y="759">3</text><text x="62" y="778">2</text><text x="62" y="796">1</text><text x="62" y="815">0</text></g>
<g class="m" text-anchor="middle"><text x="89" y="738">ABA</text><text x="135" y="738">SA</text><text x="183" y="738">JA</text></g>
<rect x="75" y="781" width="13" height="32" class="dp"/><rect x="92" y="775" width="13" height="38" class="g"/>
<rect x="124" y="770" width="13" height="43" class="dp"/><rect x="140" y="770" width="13" height="43" class="g"/>
<rect x="172" y="764" width="13" height="49" class="dp"/><rect x="188" y="767" width="13" height="46" class="g"/>
<text x="91" y="753" class="s" text-anchor="middle">ns</text><path class="k" d="M81,756H101"/>
<text x="140" y="753" class="s" text-anchor="middle">ns</text><path class="k" d="M130,756H150"/>
<text x="187" y="753" class="s" text-anchor="middle">ns</text><path class="k" d="M177,756H197"/>
<g class="m" text-anchor="middle"><text x="81" y="822">s8</text><text x="99" y="822">As8</text><text x="130" y="822">s8</text><text x="147" y="822">As8</text><text x="178" y="822">s8</text><text x="195" y="822">As8</text></g>

<!-- ========== Z ========== -->
<text x="226" y="635" class="L">Z</text>
<rect x="252" y="640" width="423" height="163" rx="6" fill="#efefef"/>
<rect x="523" y="627" width="35" height="26" rx="3" fill="#cfe0f7" stroke="#5b8fd6"/>
<text x="540" y="645" text-anchor="middle" style="font-size:14px;fill:#3a86e0">❄✻</text>
<rect x="582" y="627" width="35" height="26" rx="3" fill="#f6d2d0" stroke="#d9534f"/>
<circle cx="600" cy="640" r="6" fill="none" stroke="#c0392b" stroke-width="1.5"/><path d="M600,630V633M610,640H607M593,633L595,635M607,633L605,635M588,638H594M588,642H594" stroke="#c0392b"/>
<path class="k" d="M555,648L575,660" /><path class="k" d="M582,645L510,666V683" marker-end="url(#ar)"/>
<path class="k" d="M600,653V683M594,683H606" stroke-width="1.2"/>
<ellipse cx="501" cy="650" rx="11" ry="7" fill="#3b8fe0" stroke="#1c5fa8"/><text x="501" y="653" text-anchor="middle" class="s w">CBFs</text>
<path class="k" d="M512,645H523"/><path class="k" d="M501,657V683" marker-end="url(#ar)"/>
<ellipse cx="576" cy="664" rx="11" ry="7" fill="#3b8fe0" stroke="#1c5fa8"/><text x="576" y="667" text-anchor="middle" class="s w">CBFs</text>
<path class="k" d="M587,666H589V683" marker-end="url(#ar)"/>
<path class="k" d="M495,682H475M497,681H515" /><path class="k" d="M468,675H452" marker-end="url(#ar)"/><path class="k" d="M493,675V680"/>
<path class="k" d="M588,684H620"/><path class="k" d="M610,676V683M610,676H633" marker-end="url(#ar)"/>
<rect x="438" y="677" width="55" height="10" fill="#5cc35c" stroke="#333" stroke-width=".6"/><text x="465.5" y="685" text-anchor="middle" class="s">CSS0020241</text>
<rect x="608" y="677" width="59" height="10" fill="#d9706a" stroke="#333" stroke-width=".6"/><text x="637.5" y="685" text-anchor="middle" class="s">CSS0030265</text>
<rect x="255" y="646" width="13" height="9" rx="2" fill="#cfe0f7" stroke="#5b8fd6"/><text x="273" y="654" class="s">cold stress</text>
<rect x="255" y="658" width="13" height="8" rx="2" fill="#f6d2d0" stroke="#d9534f"/><text x="273" y="665" class="s">drought stress</text>
<path class="k" d="M256,674H265M265,671V677"/><text x="273" y="675" class="s">negative feedback</text>
<path class="k" d="M256,683H265" marker-end="url(#ar)"/><text x="273" y="685" class="s">positive feedback</text>
<rect x="256" y="730" width="41" height="17" rx="3" fill="#cfe0f7" stroke="#5b8fd6"/><text x="276.5" y="741" text-anchor="middle" class="s" style="fill:#3a6fc0">Cluster-III</text>
<path class="k" d="M269,730Q270,714 290,714" marker-end="url(#ar)"/><path class="k" d="M269,747Q270,763 290,763" marker-end="url(#ar)"/>
<path class="k" d="M293,714H314M314,763H293"/>
<path class="k" d="M314,711V706H338" marker-end="url(#ar)"/><path class="k" d="M314,758V753H338" marker-end="url(#ar)"/>
<rect x="314" y="711" width="56" height="9" fill="#5cc35c" stroke="#333" stroke-width=".6"/><text x="342" y="718.5" text-anchor="middle" class="s">CSS0020241</text>
<text x="343" y="728" text-anchor="middle" class="s" font-style="italic">(UGT2)</text>
<rect x="314" y="758" width="56" height="9" fill="#d9706a" stroke="#333" stroke-width=".6"/><text x="342" y="765.5" text-anchor="middle" class="s">CSS0030265</text>
<text x="343" y="776" text-anchor="middle" class="s" font-style="italic">(UGT3)</text>
<path d="M353,693L361,688A9,9 0 1 0 361,698Z" fill="#6cd06c" stroke="#333" stroke-width=".7"/>
<path d="M353,742L361,737A9,9 0 1 0 361,747Z" fill="#8f7ff0" stroke="#333" stroke-width=".7"/>
<path class="k" d="M380,684Q364,684 364,692Q364,700 380,700" marker-end="url(#ar)" stroke-width="1.1"/>
<path class="k" d="M380,733Q364,733 364,741Q364,749 380,749" marker-end="url(#ar)" stroke-width="1.1"/>
<text x="383" y="681" class="s">Volatile</text><text x="388" y="689" class="s">HMF</text><text x="383" y="703" class="s">HMF-Glc</text>
<text x="383" y="728" class="s">Volatile</text><text x="383" y="736" class="s">phytol</text><text x="383" y="751" class="s">Phytol-Glc</text>
<path class="k" d="M470,688V701" marker-end="url(#ar)"/>
<path d="M470,713L479,707A10,10 0 1 0 479,719Z" fill="#6cd06c" stroke="#333" stroke-width=".7"/>
<path class="k" d="M470,724V750" marker-end="url(#ar)"/>
<path class="k" d="M636,688V701" marker-end="url(#ar)"/>
<path d="M636,713L645,707A10,10 0 1 0 645,719Z" fill="#8f7ff0" stroke="#333" stroke-width=".7"/>
<text x="507" y="716" class="m" text-anchor="middle">SA</text><text x="605" y="716" class="m" text-anchor="middle">SA</text>
<path class="k" d="M490,715L500,722" marker-end="url(#ar)"/>
<use href="#dots" x="503" y="724"/><use href="#dots" x="598" y="724"/>
<path class="k" d="M518,736L534,745" marker-end="url(#ar)"/>
<path class="k" d="M596,739L586,745" marker-end="url(#ar)"/>
<path class="k" d="M628,718L620,722" marker-end="url(#ar)"/>
<rect x="536" y="734" width="48" height="22" rx="2" fill="#2f8be0" stroke="#333" stroke-width=".7"/><text x="560" y="744" text-anchor="middle" class="m w">Cold</text><text x="560" y="753" text-anchor="middle" class="m w">Tolerance</text>
<rect x="536" y="762" width="48" height="21" rx="2" fill="#d9776f" stroke="#333" stroke-width=".7"/><text x="560" y="771" text-anchor="middle" class="m w">Drought</text><text x="560" y="780" text-anchor="middle" class="m w">Tolerance</text>
<text x="472" y="756" class="m" text-anchor="middle">ABA SA</text>
<g fill="#f2e04a" stroke="#3060b0" stroke-width=".8"><circle cx="467" cy="765" r="2.2"/><circle cx="473" cy="762" r="2.2"/><circle cx="470" cy="770" r="2.2"/><circle cx="464" cy="775" r="2.2"/><circle cx="470" cy="777" r="2.2"/><circle cx="476" cy="775" r="2.2"/><circle cx="478" cy="768" r="2.2"/></g>
<use href="#dots" x="480" y="765"/>
<path class="k" d="M500,773H534" marker-end="url(#ar)"/>
<path class="k" d="M636,724V773H587" marker-end="url(#ar)"/>
<rect x="255" y="792" width="47" height="23" rx="3" fill="#fff" stroke="#666"/><text x="278.5" y="802" text-anchor="middle" class="s" style="fill:#3a6fc0">G group</text><text x="278.5" y="811" text-anchor="middle" class="s" style="fill:#3a6fc0">Cluster- II</text>
<path d="M303,800H352V796L363,803L352,810V806H303Z" fill="#999" stroke="#555" stroke-width=".6"/>
<rect x="364" y="793" width="60" height="20" rx="3" fill="#fff" stroke="#666"/><text x="394" y="806" text-anchor="middle" class="s" style="fill:#3a6fc0">Domestication</text>
<path d="M426,800H500V796L512,803L500,810V806H426Z" fill="#999" stroke="#555" stroke-width=".6"/>
<rect x="513" y="793" width="97" height="20" rx="3" fill="#fff" stroke="#666"/><text x="561.5" y="806" text-anchor="middle" class="m" style="fill:#3a6fc0">Functional Divergence</text>
</svg>
</body></html>
